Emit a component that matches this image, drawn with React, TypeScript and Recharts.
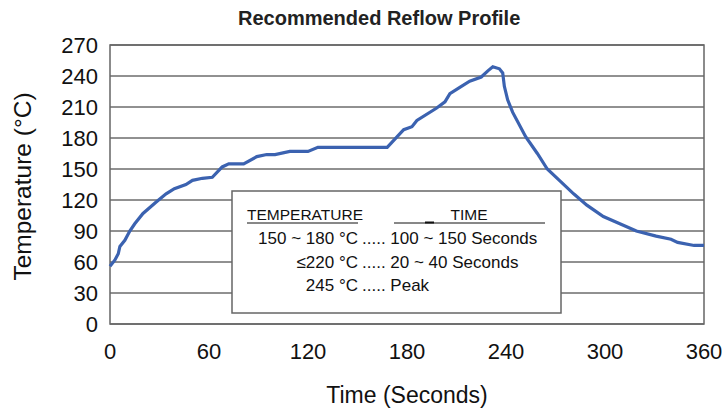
import React from 'react';
import { LineChart, Line, XAxis, YAxis, CartesianGrid, ReferenceArea, Label } from 'recharts';

// reflow profile
const timeSec = [
  0, 3, 5, 6, 9, 12, 15, 20, 28, 34, 39, 46, 50, 56, 62, 68, 72, 81, 89, 95,
  100, 109, 120, 126, 168, 178, 183, 186, 198, 203, 206, 212, 218, 225, 229, 232,
  236, 238, 239, 241, 244, 252, 259, 265, 273, 281, 289, 299, 309, 319, 331, 340,
  344, 354, 360,
];
const tempC = [
  56, 62, 68, 75, 81, 90, 97, 107, 118, 126, 131, 135, 139, 141, 142, 152, 155, 155, 162, 164,
  164, 167, 167, 171, 171, 188, 191, 197, 209, 215, 223, 229, 235, 239, 245, 249,
  247, 243, 230, 217, 205, 181, 165, 150, 138, 126, 115, 104, 97, 90, 85, 82,
  79, 76, 76,
];

const xTicks = [0, 60, 120, 180, 240, 300, 360];
const yTicks = [0, 30, 60, 90, 120, 150, 180, 210, 240, 270];

const specTemps = ['150 ~ 180 °C', '≤220 °C', '245 °C'];
const specTimes = ['100 ~ 150 Seconds', '20 ~ 40 Seconds', 'Peak'];

const profile = timeSec.map((t, i) => ({ time: t, temp: tempC[i] }));

const FONT = '"Liberation Sans", Arial, Helvetica, sans-serif';

export default function App() {
  return (
    <div style={{ position: 'absolute', left: 0, top: 0, width: 726, height: 412, background: '#fff', fontFamily: FONT }}>
      <LineChart width={726} height={412} data={profile} margin={{ top: 45, right: 22, bottom: 0, left: 0 }}>
        <CartesianGrid vertical={false} stroke="#222" strokeWidth={1} />
        <ReferenceArea x1={0} x2={360} y1={0} y2={270} fill="none" stroke="#666" strokeWidth={1.5} />
        <XAxis
          dataKey="time"
          type="number"
          domain={[0, 360]}
          ticks={xTicks}
          interval={0}
          height={88}
          axisLine={false}
          tickLine={false}
          tickMargin={13}
          tick={{ fill: '#111', fontSize: 22, fontFamily: FONT }}
        >
          <Label value="Time (Seconds)" position="insideBottom" offset={9} fill="#111" fontSize={23} fontFamily={FONT} />
        </XAxis>
        <YAxis
          type="number"
          domain={[0, 270]}
          ticks={yTicks}
          interval={0}
          width={110}
          axisLine={false}
          tickLine={false}
          tickMargin={6}
          tick={{ fill: '#111', fontSize: 22, fontFamily: FONT }}
        >
          <Label value="Temperature (°C)" position="center" angle={-90} dx={-33} dy={2} fill="#111" fontSize={24.5} fontFamily={FONT} />
        </YAxis>
        <Line
          type="linear"
          dataKey="temp"
          stroke="#3b62b0"
          strokeWidth={3.2}
          dot={false}
          isAnimationActive={false}
        />
      </LineChart>

      {/* title and spec table */}
      <svg width={726} height={412} style={{ position: 'absolute', left: 0, top: 0, pointerEvents: 'none' }}>
        <text x={238} y={25} fontSize={20} fontWeight="bold" fill="#222" fontFamily={FONT}>
          Recommended Reflow Profile
        </text>
        <rect x={232} y={191} width={329} height={122} fill="#fff" stroke="#666" strokeWidth={1.5} />
        <text x={247} y={220} fontSize={15.5} fill="#111" fontFamily={FONT}>TEMPERATURE</text>
        <line x1={247} x2={358} y1={223} y2={223} stroke="#111" strokeWidth={1} />
        <text x={469} y={220} textAnchor="middle" fontSize={15.5} fill="#111" fontFamily={FONT}>TIME</text>
        <line x1={394} x2={545} y1={223} y2={223} stroke="#111" strokeWidth={1} />
        <line x1={425} x2={434} y1={222.5} y2={222.5} stroke="#111" strokeWidth={2} />
        {specTemps.map((s, i) => (
          <g key={s}>
            <text x={358} y={244 + i * 23.5} textAnchor="end" fontSize={17} fill="#111" fontFamily={FONT}>{s}</text>
            <text x={362} y={244 + i * 23.5} fontSize={17} fill="#111" fontFamily={FONT}>{'..... ' + specTimes[i]}</text>
          </g>
        ))}
      </svg>
    </div>
  );
}
